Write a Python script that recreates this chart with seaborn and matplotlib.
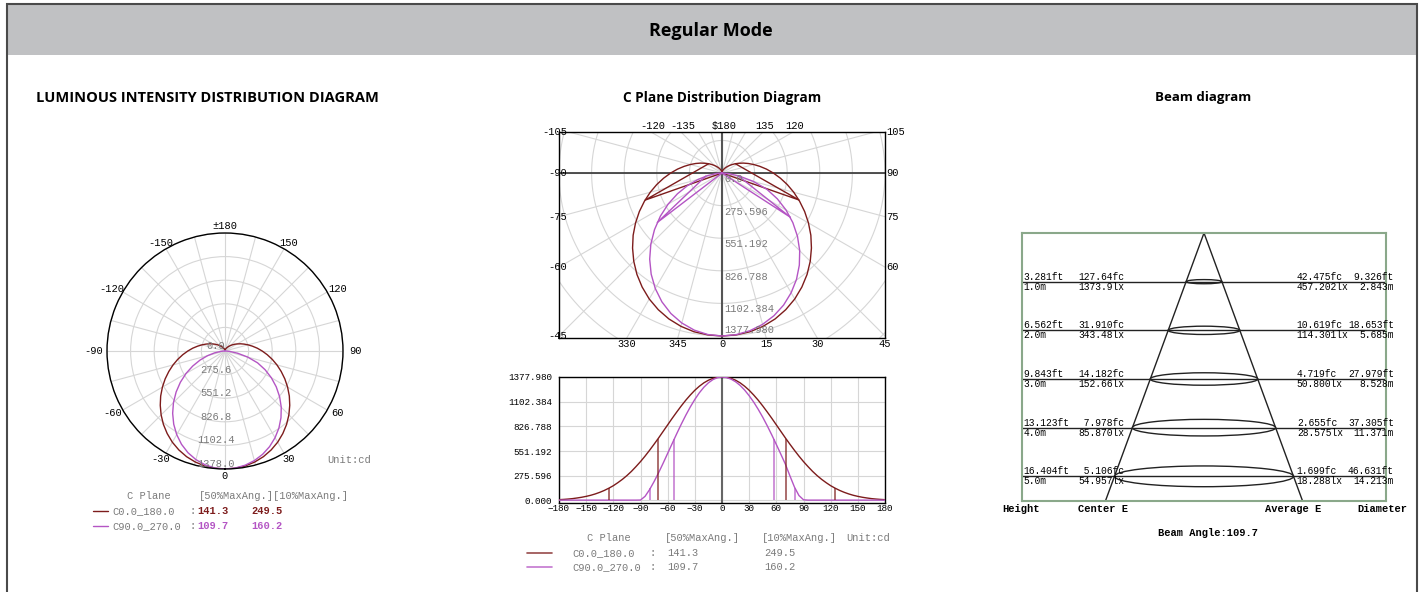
import numpy as np
import pandas as pd
import matplotlib
matplotlib.use("Agg")
import matplotlib.pyplot as plt
import matplotlib.patches as mpatches
import matplotlib.transforms as mtransforms
from matplotlib.lines import Line2D
import seaborn as sns

sns.set_theme(style="white")
plt.rcParams["font.family"] = ["Liberation Mono", "DejaVu Sans"]
plt.rcParams["text.color"] = "black"

W, H = 1422, 592

# --- datos ---
angles = list(range(-180, 181, 5))
c0_180 = [9, 12, 16, 21, 28, 36, 46, 58, 73, 91, 112, 137, 165, 199, 236, 278, 325, 378,
          434, 495, 560, 628, 698, 771, 844, 917, 987, 1055, 1119, 1177, 1230, 1275, 1313, 1342, 1363, 1374,
          1378,
          1374, 1363, 1342, 1313, 1275, 1230, 1177, 1119, 1055, 987, 917, 844, 771, 698, 628, 560, 495,
          434, 378, 325, 278, 236, 199, 165, 137, 112, 91, 73, 58, 46, 36, 28, 21, 16, 12, 9]
c90_270 = [4, 4, 4, 4, 4, 4, 4, 4, 4, 4, 4, 4, 4, 4, 4, 4, 4, 4,
           5, 46, 121, 211, 310, 416, 526, 636, 745, 851, 951, 1044, 1128, 1202, 1264, 1313, 1349, 1371,
           1378,
           1372, 1354, 1325, 1284, 1232, 1169, 1098, 1017, 929, 833, 731, 625, 516, 405, 275, 150, 55, 8,
           4, 4, 4, 4, 4, 4, 4, 4, 4, 4, 4, 4, 4, 4, 4, 4, 4, 4]
assert len(c0_180) == len(angles) == len(c90_270)

i_max = 1377.98
ring_step = 275.596
planes = ["C0.0_180.0", "C90.0_270.0"]
ang50 = [141.3, 109.7]
ang10 = [249.5, 160.2]
c0_edges50 = [-70.6, 70.7]
c0_edges10 = [-124.6, 124.9]
c90_edges50 = [-52.6, 57.1]
c90_edges10 = [-79.6, 80.6]

beam_angle = 109.7
heights_m = [1.0, 2.0, 3.0, 4.0, 5.0]
height_ft = ["3.281ft", "6.562ft", "9.843ft", "13.123ft", "16.404ft"]
height_lbl = ["1.0m", "2.0m", "3.0m", "4.0m", "5.0m"]
center_fc = ["127.64fc", "31.910fc", "14.182fc", " 7.978fc", " 5.106fc"]
center_lx = ["1373.9lx", "343.48lx", "152.66lx", "85.870lx", "54.957lx"]
avg_fc = ["42.475fc", "10.619fc", "4.719fc", "2.655fc", "1.699fc"]
avg_lx = ["457.202lx", "114.301lx", "50.800lx", "28.575lx", "18.288lx"]
diam_ft = ["9.326ft", "18.653ft", "27.979ft", "37.305ft", "46.631ft"]
diam_m = [2.843, 5.685, 8.528, 11.371, 14.213]

RED = "#7d1c1c"
PURPLE = "#b455c4"
GRID = "#d6d6d6"
GRAYTXT = "#7a7a7a"
MONO = 7.5


def px_rect(x0, y0, x1, y1):
    return [x0 / W, 1 - y1 / H, (x1 - x0) / W, (y1 - y0) / H]


def fx(x):
    return x / W


def fy(y):
    return 1 - y / H


fig = plt.figure(figsize=(W / 100, H / 100), dpi=100)
fig.patch.set_facecolor("white")

# marco y cabecera
fig.patches.append(mpatches.Rectangle((fx(7), fy(55)), fx(1417) - fx(7), fy(5) - fy(55),
                                      transform=fig.transFigure, facecolor="#c0c1c3", edgecolor="none"))
fig.patches.append(mpatches.Rectangle((fx(7), fy(600)), fx(1417) - fx(7), fy(4) - fy(600),
                                      transform=fig.transFigure, fill=False, edgecolor="#4a4a4a", lw=1.5))
fig.text(fx(711), fy(31), "Regular Mode", ha="center", va="center", fontsize=13,
         weight="bold", family="Open Sans", color="black")
fig.text(fx(36), fy(98), "LUMINOUS INTENSITY DISTRIBUTION DIAGRAM", ha="left", va="center",
         fontsize=10.5, weight="bold", family="Open Sans", color="black")
fig.text(fx(722), fy(98), "C Plane Distribution Diagram", ha="center", va="center",
         fontsize=9.8, weight="bold", family="Open Sans", color="black")
fig.text(fx(1203), fy(98), "Beam diagram", ha="center", va="center",
         fontsize=9.5, weight="bold", family="Open Sans", color="black")

theta = np.deg2rad(angles)
rings = [ring_step * k for k in range(1, 6)]

# 1. Diagrama polar izquierdo
axL = fig.add_axes(px_rect(107, 233, 343, 469), projection="polar")
axL.set_theta_zero_location("S")
axL.set_theta_direction(1)
axL.set_ylim(0, i_max)
axL.set_xticks(np.deg2rad(np.arange(0, 360, 15)))
axL.set_yticks(rings)
axL.tick_params(labelleft=False, labelbottom=False)
axL.grid(True, color=GRID, lw=0.8)
axL.spines["polar"].set_color("black")
axL.spines["polar"].set_linewidth(1)
axL.set_facecolor("white")
axL.plot(theta, c0_180, color=RED, lw=1)
axL.plot(theta, c90_270, color=PURPLE, lw=1)
for a in [0, 30, 60, 90, 120, 150, 180, -30, -60, -90, -120, -150]:
    lbl = "±180" if a == 180 else str(a)
    sx, sy = np.sin(np.deg2rad(a)), -np.cos(np.deg2rad(a))
    axL.annotate(lbl, xy=(np.deg2rad(a), i_max), xytext=(sx * (7 + 6 * abs(sx)), sy * 7),
                 textcoords="offset pixels", ha="center", va="center", fontsize=MONO,
                 color="black", annotation_clip=False)
for k in range(6):
    axL.annotate(f"{ring_step * k:.1f}", xy=(0, ring_step * k), xytext=(-9, 5),
                 textcoords="offset pixels", ha="center", va="center", fontsize=MONO,
                 color=GRAYTXT, annotation_clip=False)
fig.text(fx(327), fy(460), "Unit:cd", ha="left", va="center", fontsize=MONO, color=GRAYTXT)

# leyenda izquierda
fig.text(fx(127), fy(496), "C Plane", ha="left", va="center", fontsize=MONO, color=GRAYTXT)
fig.text(fx(199), fy(496), "[50%MaxAng.][10%MaxAng.]", ha="left", va="center", fontsize=MONO, color=GRAYTXT)
for i, (name, col) in enumerate(zip(planes, [RED, PURPLE])):
    yy = 511 + 15 * i
    fig.add_artist(Line2D([fx(93), fx(108)], [fy(yy), fy(yy)], color=col, lw=1, transform=fig.transFigure))
    fig.text(fx(112), fy(yy), name, ha="left", va="center", fontsize=MONO, color=GRAYTXT)
    fig.text(fx(190), fy(yy), ":", ha="left", va="center", fontsize=MONO, color=GRAYTXT)
    fig.text(fx(197), fy(yy), f"{ang50[i]}", ha="left", va="center", fontsize=MONO, color=col, weight="bold")
    fig.text(fx(251), fy(yy), f"{ang10[i]}", ha="left", va="center", fontsize=MONO, color=col, weight="bold")

# 2. Diagrama polar recortado (centro)
axP = fig.add_axes(px_rect(559, 132, 885, 338))
axP.set_xlim(-1378, 1378)
axP.set_ylim(-1395, 347)
axP.set_xticks([])
axP.set_yticks([])
for sp in axP.spines.values():
    sp.set_color("black")
    sp.set_linewidth(1)
for a in range(0, 360, 15):
    t = np.deg2rad(a)
    axP.plot([0, 5000 * np.sin(t)], [0, -5000 * np.cos(t)], color=GRID, lw=0.8, zorder=1)
tt = np.linspace(0, 2 * np.pi, 361)
for k in range(1, 9):
    axP.plot(ring_step * k * np.sin(tt), ring_step * k * np.cos(tt), color=GRID, lw=0.8, zorder=1)
axP.axhline(0, color="#333333", lw=1.2, zorder=2)
axP.axvline(0, color="#555555", lw=1.5, zorder=2)

for vals, e50, e10, col in [(c0_180, c0_edges50, c0_edges10, RED),
                            (c90_270, c90_edges50, c90_edges10, PURPLE)]:
    v = np.array(vals, dtype=float)
    axP.plot(v * np.sin(theta), -v * np.cos(theta), color=col, lw=1, zorder=3)
    for a50, a10 in zip(e50, e10):
        pa = np.deg2rad([a10, a50, 0])
        pr = np.array([0.1 * i_max, 0.5 * i_max, 0])
        axP.plot(pr * np.sin(pa), -pr * np.cos(pa), color=col, lw=1, zorder=3)

x0, x1 = axP.get_xlim()
y0, y1 = axP.get_ylim()


def edge_point(a, edge):
    s, c = np.sin(np.deg2rad(a)), -np.cos(np.deg2rad(a))
    if edge == "bottom":
        t = y0 / c
    elif edge == "top":
        t = y1 / c
    elif edge == "left":
        t = x0 / s
    else:
        t = x1 / s
    return float(np.clip(s * t, x0, x1)), float(np.clip(c * t, y0, y1))


names = {-30: "330", -15: "345", 180: r"\$180"}
for a in [-30, -15, 0, 15, 30, 45]:
    axP.annotate(names.get(a, str(a)), xy=edge_point(a, "bottom"), xytext=(0, -1),
                 textcoords="offset pixels", ha="center", va="top", fontsize=MONO,
                 color="black", annotation_clip=False)
for a in [-105, -90, -75, -60, -45]:
    axP.annotate(str(a), xy=edge_point(a, "left"), xytext=(8, 0),
                 textcoords="offset pixels", ha="right", va="center", fontsize=MONO,
                 color="black", annotation_clip=False)
for a in [105, 90, 75, 60]:
    axP.annotate(str(a), xy=edge_point(a, "right"), xytext=(1, 0),
                 textcoords="offset pixels", ha="left", va="center", fontsize=MONO,
                 color="black", annotation_clip=False)
for a in [-120, -135, 180, 135, 120]:
    axP.annotate(names.get(a, str(a)), xy=edge_point(a, "top"), xytext=(2, 6),
                 textcoords="offset pixels", ha="center", va="center", fontsize=MONO,
                 color="black", annotation_clip=False)
for k in range(6):
    last = k == 5
    axP.annotate(f"{ring_step * k:.3f}" if k else "0.0", xy=(0, -ring_step * k),
                 xytext=(2, 1 if last else -1), textcoords="offset pixels", ha="left",
                 va="bottom" if last else "top", fontsize=MONO, color=GRAYTXT,
                 annotation_clip=False, zorder=4)

# 3. Curva lineal (abajo centro)
axC = fig.add_axes(px_rect(559, 377, 885, 503))
df = pd.DataFrame({"angle": angles * 2,
                   "intensity": c0_180 + c90_270,
                   "plane": [planes[0]] * len(angles) + [planes[1]] * len(angles)})
sns.lineplot(data=df, x="angle", y="intensity", hue="plane", palette=[RED, PURPLE],
             ax=axC, legend=False, lw=1, zorder=3)
axC.set_xlim(-180, 180)
axC.set_ylim(-28, i_max)
axC.set_xticks(range(-180, 181, 30))
axC.set_yticks([ring_step * k for k in range(6)])
axC.set_yticklabels([f"{ring_step * k:.3f}" for k in range(6)])
axC.set_xlabel("")
axC.set_ylabel("")
axC.grid(True, color=GRID, lw=0.8)
axC.axvline(0, color="#666666", lw=1.5, zorder=2)
axC.tick_params(length=0, labelsize=6.7, colors="black")
axC.tick_params(axis="y", pad=5)
axC.tick_params(axis="x", pad=1)
for sp in axC.spines.values():
    sp.set_color("black")
    sp.set_linewidth(1)
for e50, e10, col in [(c0_edges50, c0_edges10, RED), (c90_edges50, c90_edges10, PURPLE)]:
    axC.vlines(e50, 0, 0.5 * i_max, color=col, lw=1.2, alpha=0.75, zorder=3)
    axC.vlines(e10, 0, 0.1 * i_max, color=col, lw=1.2, alpha=0.75, zorder=3)

# leyenda centro
for txt, xx in [("C Plane", 587), ("[50%MaxAng.]", 665), ("[10%MaxAng.]", 762), ("Unit:cd", 846)]:
    fig.text(fx(xx), fy(538), txt, ha="left", va="center", fontsize=MONO, color=GRAYTXT)
for i, (name, col) in enumerate(zip(planes, [RED, PURPLE])):
    yy = 553 + 14 * i
    fig.add_artist(Line2D([fx(527), fx(552)], [fy(yy), fy(yy)], color=col, lw=1.2,
                          alpha=0.8, transform=fig.transFigure))
    fig.text(fx(572), fy(yy), name, ha="left", va="center", fontsize=MONO, color=GRAYTXT)
    fig.text(fx(649), fy(yy), ":", ha="left", va="center", fontsize=MONO, color=GRAYTXT)
    fig.text(fx(667), fy(yy), f"{ang50[i]}", ha="left", va="center", fontsize=MONO, color=GRAYTXT)
    fig.text(fx(764), fy(yy), f"{ang10[i]}", ha="left", va="center", fontsize=MONO, color=GRAYTXT)

# 4. Diagrama del haz
axB = fig.add_axes(px_rect(1022, 233, 1386, 501))
axB.set_xlim(-14.44, 14.44)
axB.set_ylim(5.507, 0)
axB.set_xticks([])
axB.set_yticks([])
for sp in axB.spines.values():
    sp.set_color("#8aa88a")
    sp.set_linewidth(1.5)
bottom = axB.get_ylim()[0]
half = np.tan(np.deg2rad(beam_angle / 2)) * bottom
axB.plot([-half, 0, half], [bottom, 0, bottom], color="#222222", lw=1)
trans = mtransforms.blended_transform_factory(axB.transAxes, axB.transData)
BF = 6.9
for i, h in enumerate(heights_m):
    axB.axhline(h, color="#222222", lw=1)
    axB.add_patch(mpatches.Ellipse((0, h), width=diam_m[i], height=0.03 * diam_m[i],
                                   fill=False, edgecolor="#222222", lw=1))
    axB.text(0.003, h, height_ft[i], transform=trans, ha="left", va="bottom", fontsize=BF, color="black")
    axB.text(0.003, h, height_lbl[i], transform=trans, ha="left", va="top", fontsize=BF, color="black")
    axB.text(0.154, h, center_fc[i], transform=trans, ha="left", va="bottom", fontsize=BF, color="black")
    axB.text(0.154, h, center_lx[i], transform=trans, ha="left", va="top", fontsize=BF, color="black")
    axB.text(0.755, h, avg_fc[i], transform=trans, ha="left", va="bottom", fontsize=BF, color="black")
    axB.text(0.755, h, avg_lx[i], transform=trans, ha="left", va="top", fontsize=BF, color="black")
    axB.text(1.022, h, diam_ft[i], transform=trans, ha="right", va="bottom", fontsize=BF, color="black")
    axB.text(1.022, h, f"{diam_m[i]:.3f}m", transform=trans, ha="right", va="top", fontsize=BF, color="black")

for txt, xx in [("Height", 1002), ("Center E", 1078), ("Average E", 1265), ("Diameter", 1357)]:
    fig.text(fx(xx), fy(509), txt, ha="left", va="center", fontsize=7.5, weight="bold", color="black")
fig.text(fx(1158), fy(533), f"Beam Angle:{beam_angle}", ha="left", va="center", fontsize=7.5,
         weight="bold", color="black")

fig.savefig("out.png", dpi=100)
